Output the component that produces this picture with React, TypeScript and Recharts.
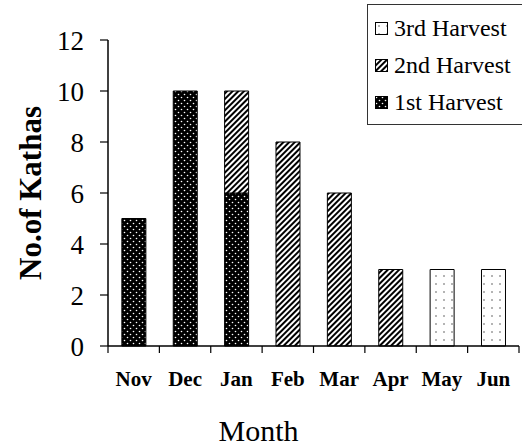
import { BarChart, Bar, XAxis, YAxis } from 'recharts'

const months = ['Nov', 'Dec', 'Jan', 'Feb', 'Mar', 'Apr', 'May', 'Jun']
const firstHarvest = [5, 10, 6, 0, 0, 0, 0, 0]
const secondHarvest = [0, 0, 4, 8, 6, 3, 0, 0]
const thirdHarvest = [0, 0, 0, 0, 0, 0, 3, 3]
const yTicks = [0, 2, 4, 6, 8, 10, 12]

const data = months.map((m, i) => ({
  month: m,
  first: firstHarvest[i],
  second: secondHarvest[i],
  third: thirdHarvest[i],
}))

const font = '"Liberation Serif", "Times New Roman", serif'

const legendItems = [
  { label: '3rd Harvest', fill: 'url(#dotsLight)' },
  { label: '2nd Harvest', fill: 'url(#stripes)' },
  { label: '1st Harvest', fill: 'url(#dotsDark)' },
]

function MonthTick(props: any) {
  const { x, y, payload, index } = props
  const half = payload.offset ?? 25.7
  return (
    <g>
      <line x1={x - half} y1={y} x2={x - half} y2={y + 7} stroke="#000" strokeWidth={1.2} />
      {index === months.length - 1 && (
        <line x1={x + half} y1={y} x2={x + half} y2={y + 7} stroke="#000" strokeWidth={1.2} />
      )}
      <text x={x} y={y + 40} textAnchor="middle" fontFamily={font} fontWeight="bold" fontSize={21} fill="#000">
        {payload.value}
      </text>
    </g>
  )
}

// legend drawn as an overlay so it does not squeeze the plot
function HarvestLegend() {
  return (
    <div
      style={{
        position: 'absolute',
        top: 4,
        left: 367,
        width: 160,
        boxSizing: 'border-box',
        border: '1.5px solid #333',
        background: '#fff',
        padding: '5px 0 3px 7px',
        fontFamily: font,
        fontSize: 24,
        lineHeight: '37px',
      }}
    >
      {legendItems.map((it) => (
        <div key={it.label} style={{ display: 'flex', alignItems: 'center', whiteSpace: 'nowrap' }}>
          <svg width={13} height={13} style={{ marginRight: 6 }}>
            <rect x={0.5} y={0.5} width={12} height={12} fill={it.fill} stroke="#000" strokeWidth={1} />
          </svg>
          <span>{it.label}</span>
        </div>
      ))}
    </div>
  )
}

export default function App() {
  return (
    <div style={{ position: 'absolute', left: 0, top: 0, width: 522, height: 446, background: '#fff', overflow: 'hidden' }}>
      <BarChart
        width={522}
        height={446}
        data={data}
        margin={{ top: 40, right: 3, left: 0, bottom: 0 }}
        barCategoryGap="27%"
      >
        <defs>
          <pattern id="dotsDark" width={6} height={6} patternUnits="userSpaceOnUse">
            <rect width={6} height={6} fill="#000" />
            <circle cx={1.5} cy={1.5} r={0.8} fill="#fff" />
            <circle cx={4.5} cy={4.5} r={0.8} fill="#fff" />
          </pattern>
          <pattern id="stripes" width={4} height={4} patternUnits="userSpaceOnUse" patternTransform="rotate(45)">
            <rect width={4} height={4} fill="#fff" />
            <rect width={2} height={4} fill="#000" />
          </pattern>
          <pattern id="dotsLight" width={8} height={8} patternUnits="userSpaceOnUse">
            <rect width={8} height={8} fill="#fff" />
            <circle cx={4} cy={4} r={0.8} fill="#555" />
          </pattern>
        </defs>
        <XAxis
          dataKey="month"
          height={100}
          tickSize={0}
          tickMargin={0}
          tickLine={false}
          axisLine={{ stroke: '#000', strokeWidth: 1.5 }}
          tick={<MonthTick />}
          interval={0}
          label={({ viewBox }: any) => (
            <text
              x={viewBox.x + viewBox.width / 2 - 55}
              y={viewBox.y + 95}
              textAnchor="middle"
              fontFamily={font}
              fontSize={30}
              fill="#000"
            >
              Month
            </text>
          )}
        />
        <YAxis
          width={108}
          domain={[0, 12]}
          ticks={yTicks}
          interval={0}
          tickSize={8}
          tickMargin={16}
          axisLine={{ stroke: '#000', strokeWidth: 1.5 }}
          tickLine={{ stroke: '#000', strokeWidth: 1.2 }}
          tick={{ fill: '#000', fontFamily: font, fontSize: 27 }}
          label={({ viewBox }: any) => (
            <text
              x={viewBox.x + 30}
              y={viewBox.y + viewBox.height / 2}
              transform={`rotate(-90 ${viewBox.x + 30} ${viewBox.y + viewBox.height / 2})`}
              textAnchor="middle"
              dominantBaseline="central"
              fontFamily={font}
              fontWeight="bold"
              fontSize={31}
              fill="#000"
            >
              No.of Kathas
            </text>
          )}
        />
        <Bar dataKey="first" stackId="h" fill="url(#dotsDark)" stroke="#000" strokeWidth={1} isAnimationActive={false} />
        <Bar dataKey="second" stackId="h" fill="url(#stripes)" stroke="#000" strokeWidth={1} isAnimationActive={false} />
        <Bar dataKey="third" stackId="h" fill="url(#dotsLight)" stroke="#000" strokeWidth={1} isAnimationActive={false} />
      </BarChart>
      <HarvestLegend />
    </div>
  )
}
